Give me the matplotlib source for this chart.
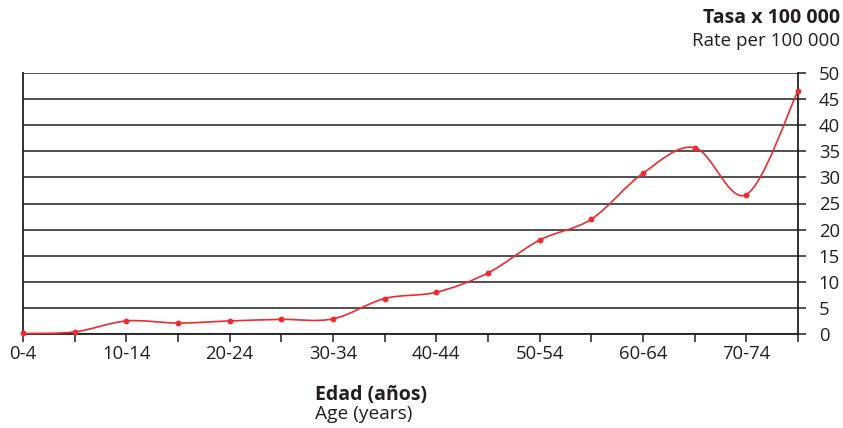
import numpy as np
import matplotlib
matplotlib.use("Agg")
import matplotlib.pyplot as plt
from matplotlib.path import Path
from matplotlib.patches import PathPatch

plt.rcParams['font.family'] = ['Open Sans', 'DejaVu Sans']

age_groups = ["0-4", "5-9", "10-14", "15-19", "20-24", "25-29", "30-34", "35-39",
              "40-44", "45-49", "50-54", "55-59", "60-64", "65-69", "70-74", "75-79"]
rates = [0.1, 0.4, 2.5, 2.1, 2.5, 2.8, 2.9, 6.8, 8.0, 11.7, 18.0, 22.0, 30.8, 35.7, 26.7, 46.6]
y_ticks = [0, 5, 10, 15, 20, 25, 30, 35, 40, 45, 50]

red = "#ee2a2f"
dark = "#231f20"

fig = plt.figure(figsize=(8.43, 4.28), dpi=100)
ax = fig.add_axes([23 / 843, 1 - 334 / 428, 775 / 843, 261 / 428])

x = np.arange(len(age_groups))
y = np.array(rates)

# smoothed line like a spreadsheet "smoothed line" (cubic bezier segments)
verts = [(x[0], y[0])]
codes = [Path.MOVETO]
n = len(x)
for i in range(n - 1):
    p0 = np.array([x[max(i - 1, 0)], y[max(i - 1, 0)]])
    p1 = np.array([x[i], y[i]])
    p2 = np.array([x[i + 1], y[i + 1]])
    p3 = np.array([x[min(i + 2, n - 1)], y[min(i + 2, n - 1)]])
    c1 = p1 + (p2 - p0) / 6
    c2 = p2 - (p3 - p1) / 6
    verts += [tuple(c1), tuple(c2), tuple(p2)]
    codes += [Path.CURVE4, Path.CURVE4, Path.CURVE4]
ax.add_patch(PathPatch(Path(verts, codes), facecolor="none", edgecolor=red, lw=1.2, zorder=3,
                       clip_on=False))
ax.plot(x, y, "o", color=red, ms=3.2, zorder=4, clip_on=False)

ax.set_xlim(0, n - 1)
ax.set_ylim(0, 50)
ax.set_yticks(y_ticks)
ax.yaxis.tick_right()
ax.set_xticks(x)
ax.set_xticklabels([a if i % 2 == 0 else "" for i, a in enumerate(age_groups)])
ax.grid(axis="y", color=dark, lw=1.1)
ax.set_axisbelow(True)
for s in ["left", "right", "bottom"]:
    ax.spines[s].set_color(dark)
    ax.spines[s].set_linewidth(1.3)
ax.spines["top"].set_visible(False)
ax.tick_params(axis="both", colors=dark, labelsize=13.3, length=6, width=1.1)
ax.tick_params(axis="x", pad=2)
ax.tick_params(axis="y", pad=9)

fig.text(840 / 843, 1 - 18 / 428, "Tasa x 100 000", ha="right", va="center",
         fontsize=14, fontweight="bold", color=dark)
fig.text(840 / 843, 1 - 41 / 428, "Rate per 100 000", ha="right", va="center",
         fontsize=13.5, color=dark)
fig.text(315 / 843, 1 - 395 / 428, "Edad (años)", ha="left", va="center",
         fontsize=14, fontweight="bold", color=dark)
fig.text(315 / 843, 1 - 414 / 428, "Age (years)", ha="left", va="center",
         fontsize=13.8, color=dark)

fig.savefig("out.png", dpi=100)
